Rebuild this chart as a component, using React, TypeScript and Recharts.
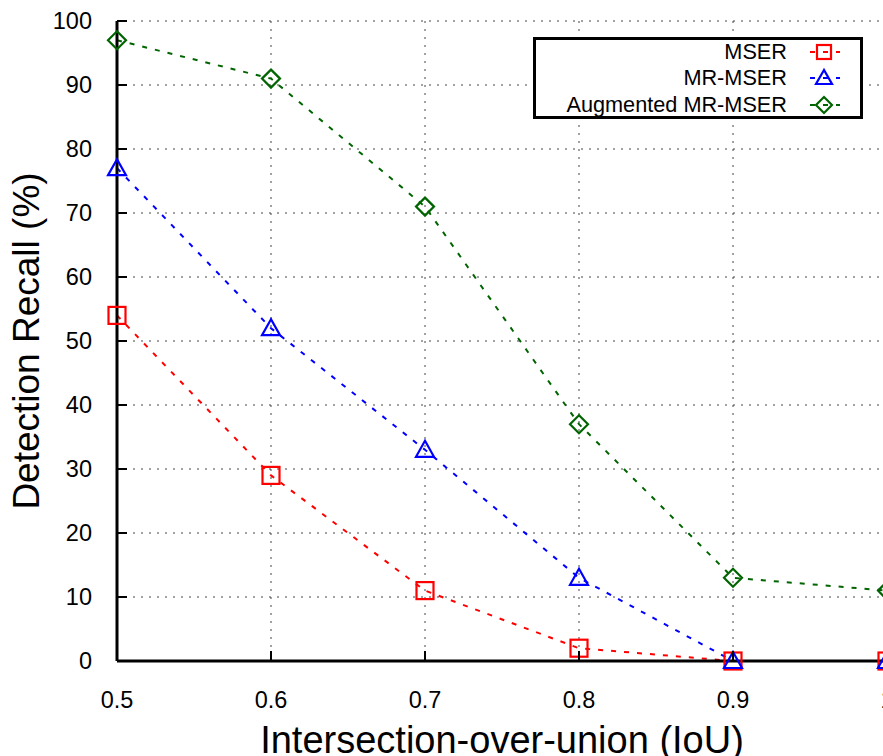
import React from "react";
import { CartesianGrid, Line, LineChart, XAxis, YAxis, Label } from "recharts";

const iou = [0.5, 0.6, 0.7, 0.8, 0.9, 1.0];
const mser = [54, 29, 11, 2, 0, 0];
const mrMser = [77, 52, 33, 13, 0, 0];
const augmented = [97, 91, 71, 37, 13, 11];

const xTicks = [0.5, 0.6, 0.7, 0.8, 0.9, 1.0];
const yTicks = [0, 10, 20, 30, 40, 50, 60, 70, 80, 90, 100];

const data = iou.map((x, i) => ({
	iou: x,
	mser: mser[i],
	mrMser: mrMser[i],
	augmented: augmented[i],
}));

const FONT = "'Liberation Sans', Arial, Helvetica, sans-serif";
const RED = "#ff0000";
const BLUE = "#0000ff";
const GREEN = "#006400";

const Square = ({ cx, cy }: any) => (
	<rect x={cx - 8.5} y={cy - 8.5} width={17} height={17} fill="none" stroke={RED} strokeWidth={2.2} />
);

const Triangle = ({ cx, cy }: any) => (
	<polygon
		points={`${cx},${cy - 9} ${cx - 9},${cy + 7} ${cx + 9},${cy + 7}`}
		fill="none"
		stroke={BLUE}
		strokeWidth={2.2}
	/>
);

const Diamond = ({ cx, cy }: any) => (
	<polygon
		points={`${cx},${cy - 9} ${cx + 9},${cy} ${cx},${cy + 9} ${cx - 9},${cy}`}
		fill="none"
		stroke={GREEN}
		strokeWidth={2.2}
	/>
);

const YTick = ({ x, y, payload }: any) => (
	<g>
		<line x1={x + 25} x2={x + 35} y1={y} y2={y} stroke="#000" strokeWidth={2} />
		<text x={x} y={y + 8} textAnchor="end" fontSize={23.5} fontFamily={FONT} fill="#000">
			{payload.value}
		</text>
	</g>
);

const XTick = ({ x, y, payload }: any) => (
	<g>
		<line x1={x} x2={x} y1={y - 31} y2={y - 41} stroke="#000" strokeWidth={2} />
		<text x={x} y={y + 16} textAnchor="middle" fontSize={23.5} fontFamily={FONT} fill="#000">
			{payload.value === 1 ? "1" : payload.value.toFixed(1)}
		</text>
	</g>
);

const legendItems = [
	{ name: "MSER", color: RED, kind: "square" },
	{ name: "MR-MSER", color: BLUE, kind: "triangle" },
	{ name: "Augmented MR-MSER", color: GREEN, kind: "diamond" },
];

function LegendMarker({ color, kind }: { color: string; kind: string }) {
	const cx = 15;
	const cy = 12;
	let shape;
	if (kind === "square") shape = <rect x={cx - 7} y={cy - 7} width={14} height={14} fill="none" stroke={color} strokeWidth={2.2} />;
	else if (kind === "triangle")
		shape = <polygon points={`${cx},${cy - 8} ${cx - 8},${cy + 6} ${cx + 8},${cy + 6}`} fill="none" stroke={color} strokeWidth={2.2} />;
	else shape = <polygon points={`${cx},${cy - 8} ${cx + 8},${cy} ${cx},${cy + 8} ${cx - 8},${cy}`} fill="none" stroke={color} strokeWidth={2.2} />;
	return (
		<svg width={32} height={24} style={{ display: "block" }}>
			<line x1={1} x2={31} y1={cy} y2={cy} stroke={color} strokeWidth={2} strokeDasharray="5 8" />
			{shape}
		</svg>
	);
}

export default function App() {
	return (
		<div style={{ position: "fixed", left: 0, top: 0, width: 883, height: 756, overflow: "hidden", background: "#fff" }}>
			<LineChart width={930} height={756} data={data} margin={{ top: 21, right: 43, left: 0, bottom: 0 }}>
				<CartesianGrid stroke="#444" strokeDasharray="2 6" strokeWidth={1} />
				<XAxis
					dataKey="iou"
					type="number"
					domain={[0.5, 1]}
					ticks={xTicks}
					height={95}
					tickLine={false}
					tickSize={0}
					tickMargin={31}
					tick={<XTick />}
					axisLine={{ stroke: "#000", strokeWidth: 3 }}
					interval={0}
				>
					<Label
						value="Intersection-over-union (IoU)"
						position="insideBottom"
						offset={3}
						style={{ fontSize: 38, fontFamily: FONT, fill: "#000" }}
					/>
				</XAxis>
				<YAxis
					type="number"
					domain={[0, 100]}
					ticks={yTicks}
					width={117}
					tickLine={false}
					tickSize={0}
					tickMargin={25}
					tick={<YTick />}
					axisLine={{ stroke: "#000", strokeWidth: 3 }}
					interval={0}
				>
					<Label
						value="Detection Recall (%)"
						angle={-90}
						position="insideLeft"
						offset={26}
						style={{ fontSize: 37, fontFamily: FONT, fill: "#000", textAnchor: "middle" }}
					/>
				</YAxis>
				<Line dataKey="mser" stroke={RED} strokeWidth={2} strokeDasharray="5 8" dot={<Square />} isAnimationActive={false} />
				<Line dataKey="mrMser" stroke={BLUE} strokeWidth={2} strokeDasharray="5 8" dot={<Triangle />} isAnimationActive={false} />
				<Line dataKey="augmented" stroke={GREEN} strokeWidth={2} strokeDasharray="5 8" dot={<Diamond />} isAnimationActive={false} />
			</LineChart>
			<div
				style={{
					position: "absolute",
					left: 533,
					top: 37,
					width: 330,
					height: 82,
					boxSizing: "border-box",
					border: "3px solid #000",
					background: "#fff",
					fontFamily: FONT,
					fontSize: 21.7,
				}}
			>
				{legendItems.map((item) => (
					<div key={item.name} style={{ display: "flex", alignItems: "center", height: 26.5, marginTop: item.kind === "square" ? -1.5 : 0 }}>
						<div style={{ width: 251, textAlign: "right" }}>{item.name}</div>
						<div style={{ marginLeft: 22 }}>
							<LegendMarker color={item.color} kind={item.kind} />
						</div>
					</div>
				))}
			</div>
		</div>
	);
}
